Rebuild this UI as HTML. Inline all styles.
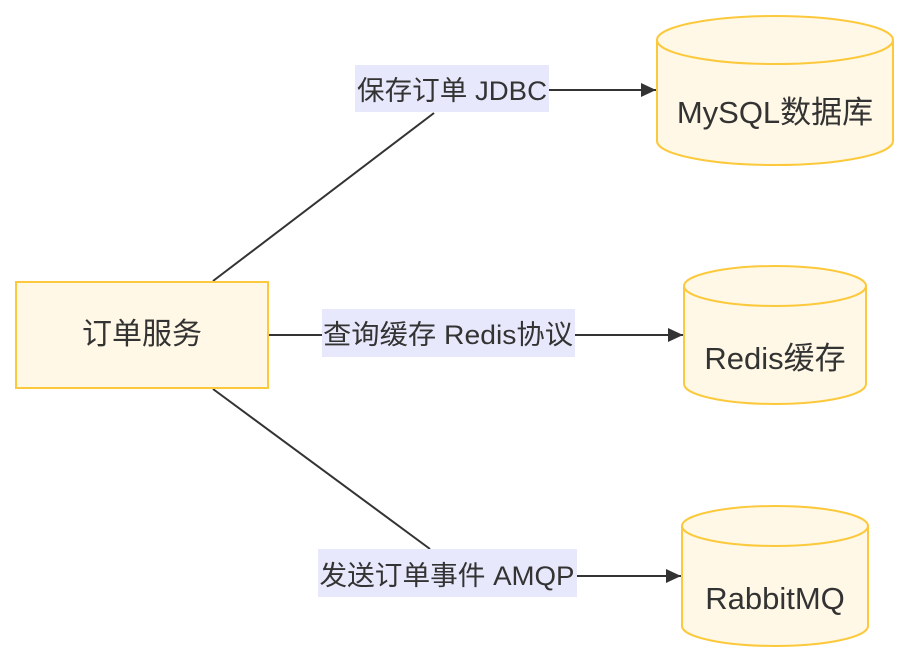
<!DOCTYPE html>
<html><head><meta charset="utf-8"><style>
html,body{margin:0;padding:0;background:#fff;}
text{font-family:"Liberation Sans","Noto Sans CJK SC",sans-serif;fill:#333;}
</style></head><body>
<svg width="910" height="662" viewBox="0 0 910 662" xmlns="http://www.w3.org/2000/svg">
<defs><marker id="a" markerWidth="16" markerHeight="16" refX="15" refY="8" orient="auto" markerUnits="userSpaceOnUse"><path d="M0,1 L15,8 L0,15 z" fill="#333"/></marker></defs>
<g stroke="#333" stroke-width="2" fill="none">
<path d="M213,281 L434,113"/>
<path d="M549,90 L656,90" marker-end="url(#a)"/>
<path d="M268,335 L322,335"/>
<path d="M575,335 L683,335" marker-end="url(#a)"/>
<path d="M213,389 L430,549"/>
<path d="M577,576 L681,576" marker-end="url(#a)"/>
</g>
<rect x="16" y="282" width="252" height="106" fill="#fff8e6" stroke="#fcc93c" stroke-width="2"/>
<text x="142" y="344" font-size="30" text-anchor="middle">订单服务</text>
<g fill="#e8e8fc">
<rect x="355" y="65" width="194" height="47"/>
<rect x="322" y="309" width="253" height="48"/>
<rect x="318" y="549" width="259" height="48"/>
</g>
<text x="452" y="100" font-size="27" text-anchor="middle" textLength="190" lengthAdjust="spacingAndGlyphs">保存订单 JDBC</text>
<text x="448" y="344" font-size="27" text-anchor="middle" textLength="250" lengthAdjust="spacingAndGlyphs">查询缓存 Redis协议</text>
<text x="447" y="585" font-size="27" text-anchor="middle" textLength="255" lengthAdjust="spacingAndGlyphs">发送订单事件 AMQP</text>
<g fill="#fff8e6" stroke="#fcc93c" stroke-width="2">
<path d="M657,40 A118,24 0 0 1 893,40 L893,141 A118,24 0 0 1 657,141 Z"/>
<path d="M657,40 A118,24 0 0 0 893,40"/>
<path d="M684,286 A91,20 0 0 1 866,286 L866,384 A91,20 0 0 1 684,384 Z"/>
<path d="M684,286 A91,20 0 0 0 866,286"/>
<path d="M682,526 A93,20 0 0 1 868,526 L868,626 A93,20 0 0 1 682,626 Z"/>
<path d="M682,526 A93,20 0 0 0 868,526"/>
</g>
<text x="775" y="123" font-size="31" text-anchor="middle">MySQL数据库</text>
<text x="775" y="369" font-size="31" text-anchor="middle">Redis缓存</text>
<text x="775" y="609" font-size="31" text-anchor="middle">RabbitMQ</text>
</svg>
</body></html>
